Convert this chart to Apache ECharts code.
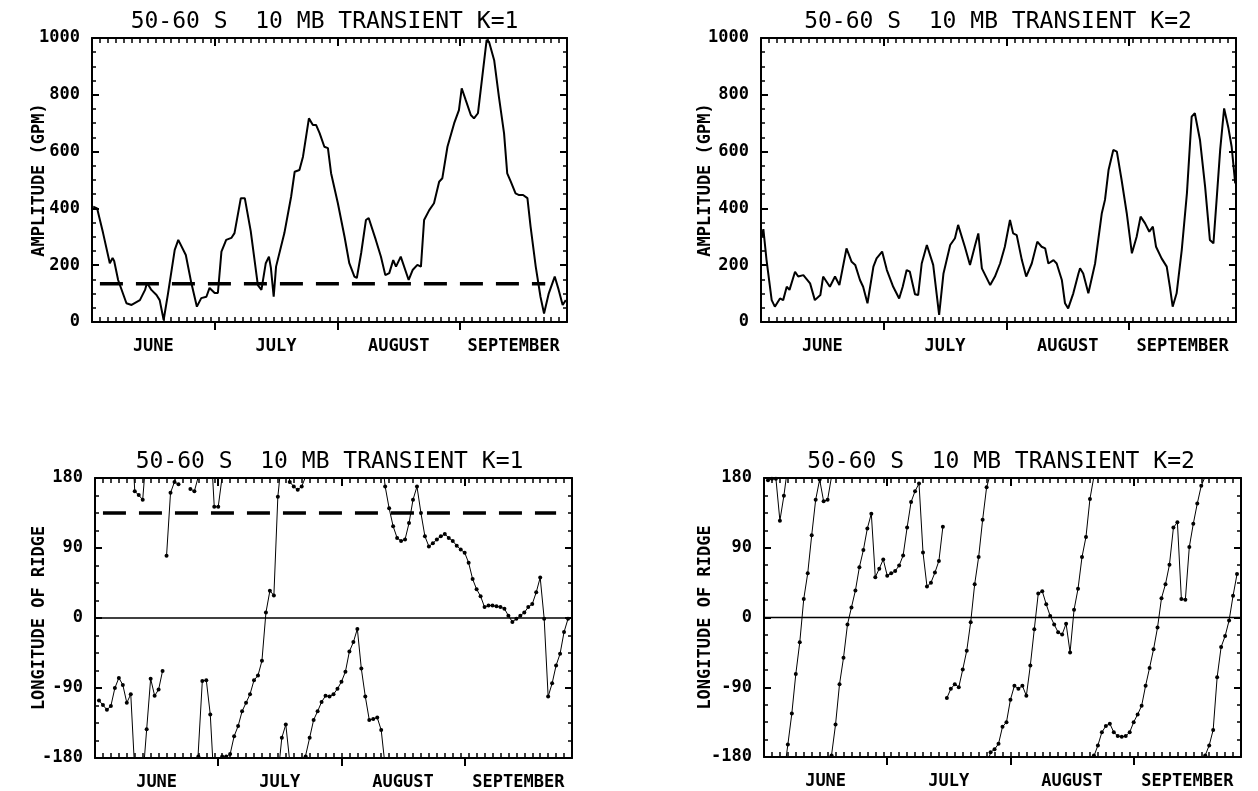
<!DOCTYPE html>
<html><head><meta charset="utf-8">
<script src="https://cdn.jsdelivr.net/npm/echarts@6/dist/echarts.min.js"></script>
<style>html,body{margin:0;padding:0;background:#fff;}#c{width:1258px;height:791px;}</style>
</head><body><div id="c"></div>
<script>
// ---------- DATA ----------
// x = day index, day 0 = May 31 (Jul 1 = 31, Aug 1 = 62, Sep 1 = 93)
const dayMax = 120;
const monthNames = ['JUNE', 'JULY', 'AUGUST', 'SEPTEMBER'];
const monthStarts = [31, 62, 93];
const monthMids = [15.5, 46.5, 77.5, 106.5];
const ampMin = 0, ampMax = 1000, ampStep = 200;
const lonMin = -180, lonMax = 180, lonStep = 90;
const titles = [
  '50-60 S  10 MB TRANSIENT K=1',
  '50-60 S  10 MB TRANSIENT K=2',
  '50-60 S  10 MB TRANSIENT K=1',
  '50-60 S  10 MB TRANSIENT K=2'
];
const ampName = 'AMPLITUDE (GPM)';
const lonName = 'LONGITUDE OF RIDGE';

// dashed reference level in the K=1 panels: [startDay, endDay, level]
const ampDashK1 = [2, 114.5, 135];
const lonDashK1 = [2, 116, 135];

// amplitude, K=1 : [day, gpm]
const ampK1 = [[0.3,406],[1.3,400],[2.8,313],[4.5,207],[5.2,225],[5.6,215],[6.6,148],[8.7,66],[10,60],[12.1,77],[13.4,113],[13.9,138],[15,113],[16.3,95],[17.1,77],[18.1,7],[19.2,100],[20.9,254],[21.8,289],[23.7,236],[25.1,137],[26.5,54],[27.6,84],[28.9,89],[29.7,120],[31,102],[31.8,102],[32.7,248],[33.9,289],[35.2,296],[36,313],[37.6,436],[38.6,436],[40.1,320],[41.9,130],[42.8,113],[43.9,207],[44.7,230],[45.2,190],[45.9,89],[46.5,195],[48.6,313],[50.3,441],[51.2,529],[52.4,535],[53.3,582],[54.8,717],[55.8,694],[56.6,694],[57.5,665],[58.7,617],[59.6,612],[60.4,524],[62.1,419],[63.8,300],[65,207],[66.3,160],[66.9,155],[68,243],[69.2,359],[69.9,366],[71.7,289],[73,230],[74.1,165],[75.1,172],[76.1,218],[76.8,195],[78,230],[80,148],[81,183],[82.2,201],[83.1,195],[83.9,359],[85.2,394],[86.4,418],[87.7,494],[88.5,506],[89.8,617],[91.5,700],[92.7,746],[93.4,823],[94.4,782],[95.7,729],[96.5,717],[97.5,735],[98.6,864],[99.7,993],[100.3,987],[101.6,922],[102.8,793],[104.1,664],[104.9,523],[105.8,494],[107,453],[107.9,447],[108.9,447],[110,436],[110.8,336],[112.1,195],[113.3,89],[114.2,30],[115.4,101],[116.9,160],[117.9,113],[118.9,60],[119.7,77]];

// amplitude, K=2 : [day, gpm]
const ampK2 = [[0.2,300],[0.6,327],[1.4,218],[2.7,77],[3.5,54],[4.8,83],[5.6,77],[6.5,124],[7.2,113],[8.6,177],[9.4,160],[10.7,165],[12.4,136],[13.6,77],[15,95],[15.7,160],[17.4,124],[18.7,160],[19.8,130],[21.6,259],[22.9,212],[23.8,201],[25,148],[25.8,124],[26.9,66],[28.4,195],[29.2,224],[30.6,248],[31.8,183],[33.4,124],[34.9,83],[35.8,124],[36.8,183],[37.6,177],[38.9,98],[39.7,95],[40.6,206],[41.9,271],[43.5,201],[45,25],[46.1,171],[47.8,271],[49,295],[49.8,342],[51.5,265],[52.8,201],[54.1,271],[54.9,312],[55.8,189],[57.9,130],[59.1,160],[60.4,206],[61.6,265],[62.9,359],[63.7,312],[64.6,306],[65.9,218],[67,160],[68.4,206],[69.8,283],[70.9,265],[71.8,259],[72.6,206],[73.9,218],[74.7,206],[76,148],[76.8,66],[77.6,48],[78.9,101],[80.2,171],[80.6,189],[81.4,171],[82.7,101],[84.4,206],[86.1,383],[86.9,430],[87.8,535],[89,606],[89.9,600],[91.1,500],[92.4,383],[93.7,242],[94.9,300],[95.9,371],[97,348],[98.1,318],[99,336],[99.8,265],[101.2,224],[102.5,195],[103.3,124],[104,54],[105,101],[106.3,254],[107.6,453],[108.8,723],[109.6,735],[110.9,641],[112.2,476],[113.4,289],[114.3,277],[115.1,430],[116,606],[117,752],[118.1,682],[118.9,617],[119.8,488]];

// longitude of ridge, K=1 : [day, degrees]; null = no line drawn
const lonK1 = [[1,-106],[2,-112],[3,-118],[4,-113],[5,-90],[6,-77],[7,-86],[8,-109],[9,-98],[10,163],[11,158],[12,152],[13,-143],[14,-78],[15,-100],[16,-92],[17,-68],null,
 [18,80],[19,161],[20,175],[21,172],null,
 [24,166],[25,163],[26,-178],[27,-81],[28,-80],[29,-124],[30,143],[31,143],[32,-178],[33,-178],[34,-175],[35,-152],[36,-139],[37,-120],[38,-109],[39,-98],[40,-80],[41,-74],[42,-55],[43,7],[44,35],[45,29],[46,156],[47,-154],[48,-137],[49,175],[50,169],[51,165],[52,169],[53,-178],[54,-154],[55,-131],[56,-120],[57,-108],[58,-100],[59,-101],[60,-98],[61,-91],[62,-82],[63,-69],[64,-43],[65,-31],[66,-14],[67,-65],[68,-101],[69,-131],[70,-130],[71,-128],[72,-144],[73,169],[74,141],[75,118],[76,103],[77,99],[78,101],[79,122],[80,152],[81,169],[82,135],[83,105],[84,92],[85,96],[86,101],[87,105],[88,108],[89,103],[90,99],[91,93],[92,88],[93,84],[94,71],[95,50],[96,37],[97,28],[98,14],[99,16],[100,16],[101,15],[102,14],[103,12],[104,3],[105,-5],[106,-1],[107,3],[108,7],[109,14],[110,18],[111,33],[112,52],[113,-1],[114,-101],[115,-84],[116,-61],[117,-46],[118,-18],[119,-1]];

// longitude of ridge, K=2 : [day, degrees]; null = no line drawn
const lonK2 = [[1,177],[2,179],[3,179],[4,125],[5,157],[6,-164],[7,-124],[8,-73],[9,-32],[10,24],[11,57],[12,106],[13,152],[14,178],[15,150],[16,152],[17,-178],[18,-138],[19,-86],[20,-52],[21,-9],[22,13],[23,35],[24,65],[25,87],[26,115],[27,134],[28,52],[29,63],[30,75],[31,54],[32,57],[33,60],[34,67],[35,80],[36,116],[37,149],[38,163],[39,173],[40,84],[41,40],[42,45],[43,58],[44,73],[45,117],null,
 [46,-104],[47,-92],[48,-86],[49,-90],[50,-67],[51,-43],[52,-6],[53,43],[54,78],[55,126],[56,168],[57,-174],[58,-170],[59,-163],[60,-141],[61,-135],[62,-106],[63,-88],[64,-92],[65,-88],[66,-101],[67,-62],[68,-15],[69,31],[70,34],[71,17],[72,2],[73,-9],[74,-19],[75,-22],[76,-8],[77,-45],[78,10],[79,37],[80,78],[81,104],[82,153],[83,-178],[84,-165],[85,-148],[86,-140],[87,-137],[88,-148],[89,-153],[90,-154],[91,-153],[92,-148],[93,-135],[94,-125],[95,-114],[96,-88],[97,-65],[98,-41],[99,-13],[100,25],[101,43],[102,68],[103,116],[104,123],[105,24],[106,23],[107,91],[108,121],[109,147],[110,170],[111,-178],[112,-165],[113,-145],[114,-77],[115,-38],[116,-24],[117,-4],[118,28],[119,56]];

// ---------- LAYOUT / STYLE ----------
const FONT = 'DejaVu Sans Mono';
const grids = [
  {left: 92, top: 38, width: 475, height: 284},
  {left: 761, top: 38, width: 475, height: 284},
  {left: 95, top: 478, width: 477, height: 282},
  {left: 764, top: 478, width: 477, height: 279}
];
const nameGaps = [44, 47, 47, 50];
const titleShift = [-10, -5.5, -9, -6.5];
const BLACK = '#000';

function xAxes(g) {
  const base = {gridIndex: g, type: 'value', min: 0, max: dayMax, splitLine: {show: false}};
  return [
    Object.assign({}, base, {position: 'bottom',
      axisLine: {show: true, onZero: false, lineStyle: {color: BLACK, width: 2}},
      axisTick: {show: true, customValues: monthStarts, inside: false, length: 8, lineStyle: {color: BLACK, width: 2}},
      axisLabel: {show: true, customValues: monthMids, margin: 16, color: BLACK, fontFamily: FONT, fontSize: 17, fontWeight: 'bold',
        formatter: v => monthNames[monthMids.indexOf(v)] || ''}}),
    Object.assign({}, base, {position: 'bottom', interval: 2,
      axisLine: {show: false, onZero: false},
      axisTick: {show: true, inside: true, length: 5, lineStyle: {color: BLACK, width: 1.5}},
      axisLabel: {show: false}}),
    Object.assign({}, base, {position: 'top', interval: 2,
      axisLine: {show: true, onZero: false, lineStyle: {color: BLACK, width: 2}},
      axisTick: {show: true, inside: true, length: 5, lineStyle: {color: BLACK, width: 1.5}},
      axisLabel: {show: false}}),
    Object.assign({}, base, {position: 'top',
      axisLine: {show: false, onZero: false},
      axisTick: {show: true, customValues: monthStarts, inside: true, length: 8, lineStyle: {color: BLACK, width: 2}},
      axisLabel: {show: false}})
  ];
}
function yAxes(g, isAmp) {
  const base = {gridIndex: g, type: 'value',
    min: isAmp ? ampMin : lonMin, max: isAmp ? ampMax : lonMax, interval: isAmp ? ampStep : lonStep,
    splitLine: {show: false},
    axisLine: {show: true, onZero: false, lineStyle: {color: BLACK, width: 2}},
    axisTick: {show: true, inside: true, length: 7, lineStyle: {color: BLACK, width: 2}},
    minorTick: {show: true, splitNumber: 4, length: 4, lineStyle: {color: BLACK, width: 1.5}}};
  return [
    Object.assign({}, base, {position: 'left',
      axisLabel: {show: true, margin: 12, color: BLACK, fontFamily: FONT, fontSize: 17, fontWeight: 'bold',
        formatter: v => String(v)},
      name: isAmp ? ampName : lonName, nameLocation: 'middle', nameRotate: 90, nameGap: nameGaps[g],
      nameMoveOverlap: false,
      nameTextStyle: {color: BLACK, fontFamily: FONT, fontSize: 17, fontWeight: 'bold'}}),
    Object.assign({}, base, {position: 'right', axisLabel: {show: false}})
  ];
}

const xAxis = [], yAxis = [];
for (let g = 0; g < 4; g++) { xAxis.push(...xAxes(g)); yAxis.push(...yAxes(g, g < 2)); }

// split a wrapped longitude series into drawable pieces (lines run to the frame edge at a wrap)
function lonSegments(points) {
  const segs = []; let cur = []; let prev = null;
  for (const p of points) {
    if (!p) { if (cur.length) segs.push(cur); cur = []; prev = null; continue; }
    if (prev) {
      const d = p[1] - prev[1];
      if (Math.abs(d) > 180) {
        const v2 = d > 0 ? p[1] - 360 : p[1] + 360;
        const edge = d > 0 ? lonMin : lonMax;
        const t = (edge - prev[1]) / (v2 - prev[1]);
        const xc = prev[0] + t * (p[0] - prev[0]);
        cur.push({value: [xc, edge], symbol: 'none'});
        segs.push(cur);
        cur = [{value: [xc, -edge], symbol: 'none'}];
      }
    }
    cur.push(p); prev = p;
  }
  if (cur.length) segs.push(cur);
  return segs;
}

const series = [];
function amp(g, data) {
  series.push({type: 'line', xAxisIndex: 4 * g, yAxisIndex: 2 * g, data, symbol: 'none',
    lineStyle: {color: BLACK, width: 2}, z: 3});
}
function dash(g, spec) {
  series.push({type: 'line', xAxisIndex: 4 * g, yAxisIndex: 2 * g, symbol: 'none',
    data: [[spec[0], spec[2]], [spec[1], spec[2]]],
    lineStyle: {color: BLACK, width: 3.5, type: [23, 13]}, z: 2});
}
function zero(g) {
  series.push({type: 'line', xAxisIndex: 4 * g, yAxisIndex: 2 * g, symbol: 'none',
    data: [[0, 0], [dayMax, 0]], lineStyle: {color: BLACK, width: 1.6}, z: 2});
}
function lon(g, pts) {
  for (const seg of lonSegments(pts)) {
    series.push({type: 'line', xAxisIndex: 4 * g, yAxisIndex: 2 * g, data: seg,
      symbol: 'circle', symbolSize: 4, showSymbol: true,
      itemStyle: {color: BLACK, borderWidth: 0},
      lineStyle: {color: BLACK, width: 1}, z: 3});
  }
}
amp(0, ampK1); dash(0, ampDashK1);
amp(1, ampK2);
zero(2); dash(2, lonDashK1); lon(2, lonK1);
zero(3); lon(3, lonK2);

const title = titles.map((t, i) => ({
  text: t, left: grids[i].left + grids[i].width / 2 + titleShift[i], top: i < 2 ? 6 : 446, textAlign: 'center',
  textStyle: {color: BLACK, fontFamily: FONT, fontSize: 23, fontWeight: 'normal'}
}));

const chart = echarts.init(document.getElementById('c'), null, {renderer: 'canvas'});
chart.setOption({
  animation: false,
  backgroundColor: '#fff',
  title,
  grid: grids.map(g => Object.assign({containLabel: false}, g)),
  xAxis, yAxis, series
});
</script></body></html>
